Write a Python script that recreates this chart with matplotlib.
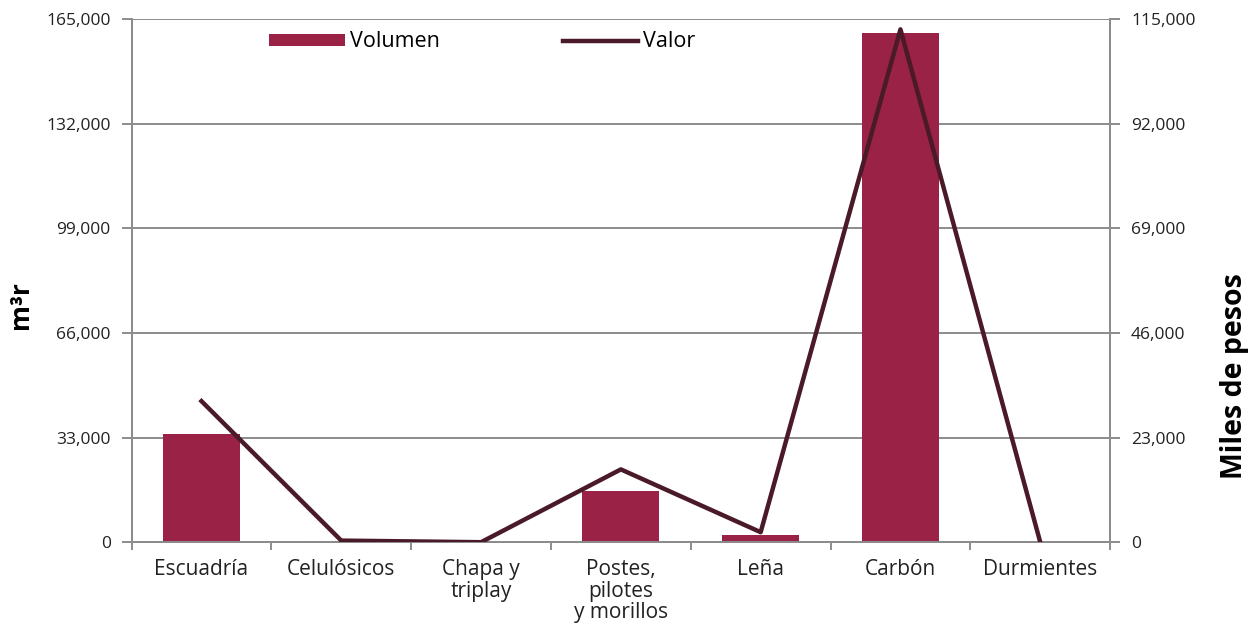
import numpy as np
import matplotlib.pyplot as plt
from matplotlib.ticker import FuncFormatter

# Categories and series
categorias = ['Escuadría', 'Celulósicos', 'Chapa y\ntriplay', 'Postes,\npilotes\ny morillos',
              'Leña', 'Carbón', 'Durmientes']
volumen = [34200, 300, 0, 16100, 2300, 160600, 400]        # m3r
valor = [31000, 350, 0, 16000, 2200, 112700, 0]             # miles de pesos

left_ticks = [0, 33000, 66000, 99000, 132000, 165000]
right_ticks = [0, 23000, 46000, 69000, 92000, 115000]

bar_color = '#9B2247'
line_color = '#4A1A28'
grid_color = '#8C8C8C'

plt.rcParams['font.family'] = ['Open Sans', 'DejaVu Sans']

fig = plt.figure(figsize=(12.53, 6.29), dpi=100)
ax = fig.add_axes([0.105, 0.138, 0.781, 0.832])
ax2 = ax.twinx()

x = np.arange(len(categorias))
ax.bar(x, volumen, width=0.55, color=bar_color, label='Volumen', zorder=3)
ax2.plot(x, valor, color=line_color, lw=3.2, label='Valor', zorder=4)

ax.set_xlim(-0.5, len(categorias) - 0.5)
ax.set_ylim(0, 165000)
ax2.set_ylim(0, 115000)
ax.set_yticks(left_ticks)
ax2.set_yticks(right_ticks)
fmt = FuncFormatter(lambda v, p: f'{int(v):,}')
ax.yaxis.set_major_formatter(fmt)
ax2.yaxis.set_major_formatter(fmt)

ax.yaxis.grid(True, color=grid_color, lw=1.4, zorder=0)
ax.set_axisbelow(True)

# category labels centred, ticks between categories
ax.set_xticks(x)
ax.set_xticklabels(categorias, fontsize=15, color='#222222', linespacing=1.05)
ax.set_xticks(np.arange(-0.5, len(categorias)), minor=True)
ax.tick_params(axis='x', which='major', length=0, pad=12)
ax.tick_params(axis='x', which='minor', length=6, color=grid_color, width=1.4)
ax.tick_params(axis='y', length=7, color=grid_color, width=1.4, labelsize=12.5,
               labelcolor='#222222', pad=8)
ax2.tick_params(axis='y', length=7, color=grid_color, width=1.4, labelsize=12.5,
                labelcolor='#222222', pad=8)

for a in (ax, ax2):
    for s in a.spines.values():
        s.set_color(grid_color)
        s.set_linewidth(1.4)
    a.spines['top'].set_visible(False)

ax.set_ylabel('m³r', fontsize=19, fontweight='bold')
ax2.set_ylabel('Miles de pesos', fontsize=20.5, fontweight='bold')
ax.yaxis.set_label_coords(-0.1, 0.453)
ax2.yaxis.set_label_coords(1.112, 0.317)

h1, l1 = ax.get_legend_handles_labels()
h2, l2 = ax2.get_legend_handles_labels()
ax.legend(h1 + h2, l1 + l2, loc='upper left', bbox_to_anchor=(0.121, 1.013), ncol=2,
          frameon=False, fontsize=15.5, handlelength=3.5, handleheight=0.5,
          columnspacing=5.7, handletextpad=0.25)

fig.savefig('out.png', dpi=100)
